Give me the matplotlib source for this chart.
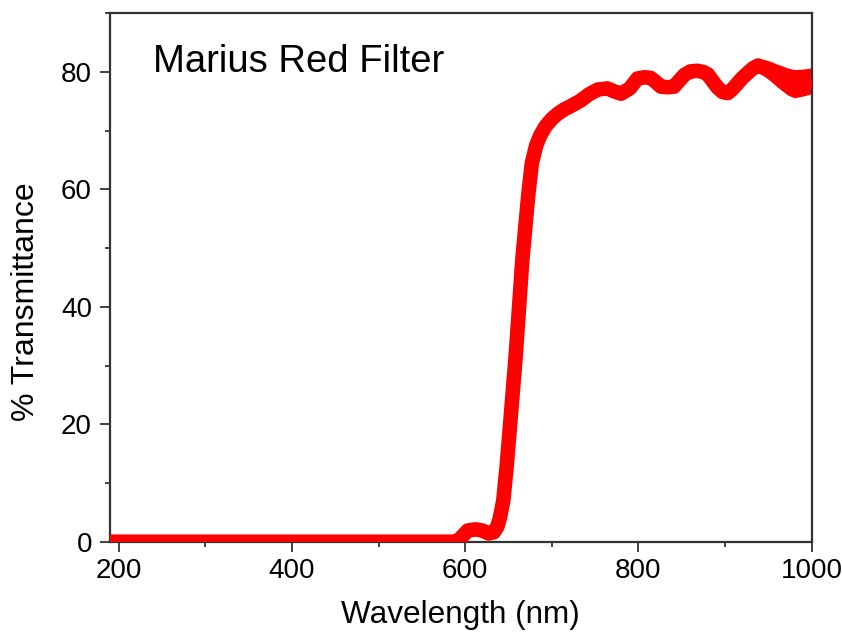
import matplotlib
matplotlib.use("Agg")
import matplotlib.pyplot as plt
from matplotlib.ticker import MultipleLocator
import numpy as np

plt.rcParams['font.family'] = ['Liberation Sans', 'DejaVu Sans']

wavelength = [190, 300, 400, 500, 590, 596, 603, 612, 620, 627, 633, 637, 640, 644, 648,
              653, 658, 662, 666, 670, 673, 677, 682, 687, 693, 700, 707, 714, 722, 733,
              743, 753, 764, 772, 780, 790, 799, 807, 814, 820, 826, 834, 841, 847, 853,
              860, 868, 875, 880, 886, 891, 897, 903, 908, 914, 920, 926, 932, 938, 945,
              953, 959, 965, 972, 980, 990, 1000]
transmittance = [0.0, 0.0, 0.0, 0.0, 0.0, 0.8, 1.9, 2.1, 1.9, 1.4, 1.6, 2.5, 4.0, 7.0, 13.0,
                 22.0, 31.0, 39.5, 48.0, 54.5, 59.3, 64.5, 67.5, 69.3, 70.8, 72.0, 72.9, 73.6, 74.2, 75.1,
                 76.2, 77.0, 77.2, 76.7, 76.3, 77.2, 78.9, 79.1, 79.0, 78.3, 77.5, 77.4, 77.5, 78.5, 79.5,
                 80.1, 80.2, 80.0, 79.6, 78.4, 77.4, 76.6, 76.4, 77.0, 78.0, 79.0, 79.8, 80.6, 81.1, 80.7,
                 80.1, 79.5, 79.0, 78.4, 78.0, 78.2, 78.5]
# half-width of the noise spread in the measured trace (data units)
noise = [0]*50 + [0.1, 0.2, 0.3, 0.4, 0.5, 0.6, 0.8, 1.0, 1.2, 1.4, 1.7, 1.9, 2.1, 2.3, 2.4, 2.3, 2.2]

x_ticks = [200, 400, 600, 800, 1000]
y_ticks = [0, 20, 40, 60, 80]

fig = plt.figure(figsize=(8.42, 6.32), dpi=100)
ax = fig.add_axes([0.1306, 0.1429, 0.8334, 0.8361])

wl = np.array(wavelength)
tr = np.array(transmittance)
nz = np.array(noise)
ax.fill_between(wl, tr - nz, tr + nz, color='#ff0000', linewidth=0, zorder=2)
ax.plot(wl, tr, color='#ff0000', linewidth=10.5, solid_capstyle='butt', zorder=3)

ax.set_xlim(190, 1000)
ax.set_ylim(0, 90)
ax.set_xticks(x_ticks)
ax.set_yticks(y_ticks)
ax.xaxis.set_minor_locator(MultipleLocator(100))
ax.yaxis.set_minor_locator(MultipleLocator(10))

for s in ax.spines.values():
    s.set_color('#333333')
    s.set_linewidth(1.6)
ax.tick_params(which='major', direction='out', length=7, width=1.3, color='#333333',
               labelsize=20, pad=5)
ax.tick_params(which='minor', direction='out', length=3.5, width=1.3, color='#333333')
ax.tick_params(axis='y', which='major', pad=6)

ax.set_xlabel('Wavelength (nm)', fontsize=22.7, labelpad=11)
ax.set_ylabel('% Transmittance', fontsize=23)
ax.yaxis.set_label_coords(-0.098, 0.455)

ax.text(0.061, 0.889, 'Marius Red Filter', transform=ax.transAxes, fontsize=27.5,
        ha='left', va='baseline', color='black')

fig.savefig('out.png', dpi=100)
